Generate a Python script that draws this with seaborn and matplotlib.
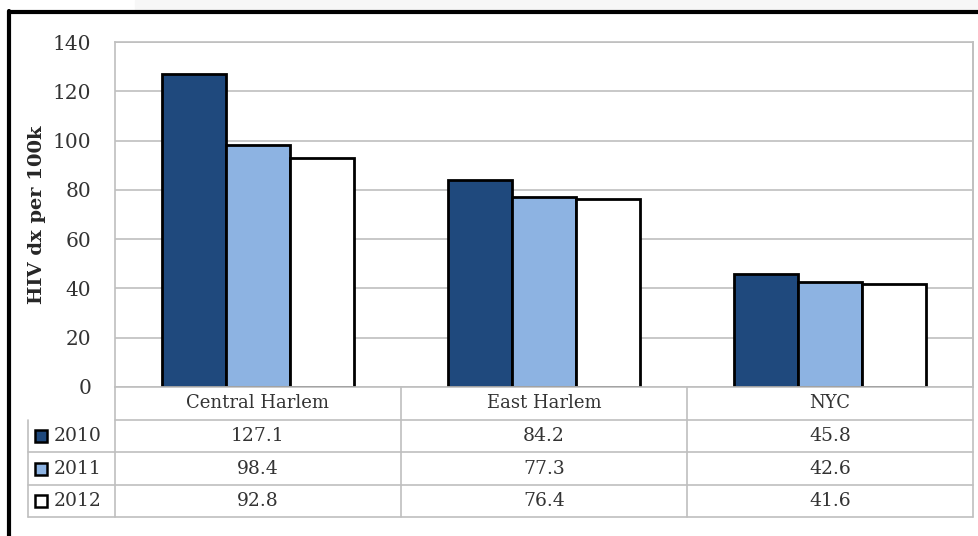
import numpy as np
import pandas as pd
import matplotlib
matplotlib.use("Agg")
import matplotlib.pyplot as plt
import seaborn as sns
from matplotlib.lines import Line2D
from matplotlib.patches import Rectangle

areas = ["Central Harlem", "East Harlem", "NYC"]
years = ["2010", "2011", "2012"]
rate_2010 = [127.1, 84.2, 45.8]
rate_2011 = [98.4, 77.3, 42.6]
rate_2012 = [92.8, 76.4, 41.6]
colors = ["#1f497d", "#8db3e2", "#ffffff"]

df = pd.DataFrame({
    "area": areas * 3,
    "year": [y for y in years for _ in areas],
    "rate": rate_2010 + rate_2011 + rate_2012,
})

sns.set_style("white")
plt.rcParams["font.family"] = ["DejaVu Serif"]

fig = plt.figure(figsize=(9.79, 5.36), dpi=100)
fig.patch.set_facecolor("white")
ax = fig.add_axes([115 / 979, 1 - 387 / 536, 858 / 979, 345 / 536])

sns.barplot(data=df, x="area", y="rate", hue="year", palette=colors,
            edgecolor="black", linewidth=2, width=0.67, gap=0,
            saturation=1, legend=False, ax=ax)

ax.set_xlim(-0.5, 2.5)
ax.set_ylim(0, 140)
ax.set_yticks(np.arange(0, 141, 20))
ax.yaxis.grid(True, color="#bfbfbf", linewidth=1.2)
ax.set_axisbelow(True)
for s in ax.spines.values():
    s.set_color("#bfbfbf")
    s.set_linewidth(1.2)
ax.tick_params(axis="y", length=0, pad=17, labelsize=14.5, labelcolor="#333333")
ax.set_xticks([])
ax.set_xlabel("")
ax.set_ylabel("HIV dx per 100k", fontsize=14, fontweight="bold", labelpad=5)

# data table below the plot
ppx = 1 / 345.0
rows_y = [0, -33 * ppx, -65 * ppx, -98 * ppx, -130 * ppx]
left_x = (28 - 115) / 858
gc = "#bfbfbf"
line_kw = dict(color=gc, linewidth=1.2, clip_on=False, transform=ax.transAxes)
ax.plot([0, 1], [rows_y[1]] * 2, **line_kw)
for yv in rows_y[2:]:
    ax.plot([left_x, 1], [yv] * 2, **line_kw)
ax.plot([left_x, left_x], [rows_y[1], rows_y[4]], **line_kw)
for xv in [0, 1 / 3, 2 / 3]:
    ax.plot([xv, xv], [0, rows_y[4]], **line_kw)
ax.plot([1, 1], [1, rows_y[4]], **line_kw)

for i, a in enumerate(areas):
    xc = (i + 0.5) / 3
    ax.text(xc, (rows_y[0] + rows_y[1]) / 2, a, transform=ax.transAxes,
            ha="center", va="center", fontsize=13, color="#333333")
series = [rate_2010, rate_2011, rate_2012]
for r, (yr, vals, c) in enumerate(zip(years, series, colors)):
    yc = (rows_y[r + 1] + rows_y[r + 2]) / 2
    ax.plot([left_x + 13 / 858], [yc], marker="s", markersize=8.5, markerfacecolor=c,
            markeredgecolor="black", markeredgewidth=1.8, transform=ax.transAxes,
            clip_on=False)
    ax.text(left_x + 26 / 858, yc, yr, transform=ax.transAxes, ha="left",
            va="center", fontsize=13.5, color="#333333")
    for i, v in enumerate(vals):
        ax.text((i + 0.5) / 3, yc, f"{v:.1f}", transform=ax.transAxes,
                ha="center", va="center", fontsize=13.5, color="#333333")

# outer frame of the screenshot
fig.add_artist(Rectangle((135 / 979, 1 - 10 / 536), 1, 10 / 536,
                         transform=fig.transFigure, color="#f7f7f7", zorder=0))
fig.add_artist(Line2D([9 / 979, 9 / 979], [0, 1 - 11 / 536], color="black",
                      linewidth=3, transform=fig.transFigure))
fig.add_artist(Line2D([9 / 979, 1], [1 - 12 / 536] * 2, color="black",
                      linewidth=3, transform=fig.transFigure))

fig.savefig("out.png", dpi=100)
